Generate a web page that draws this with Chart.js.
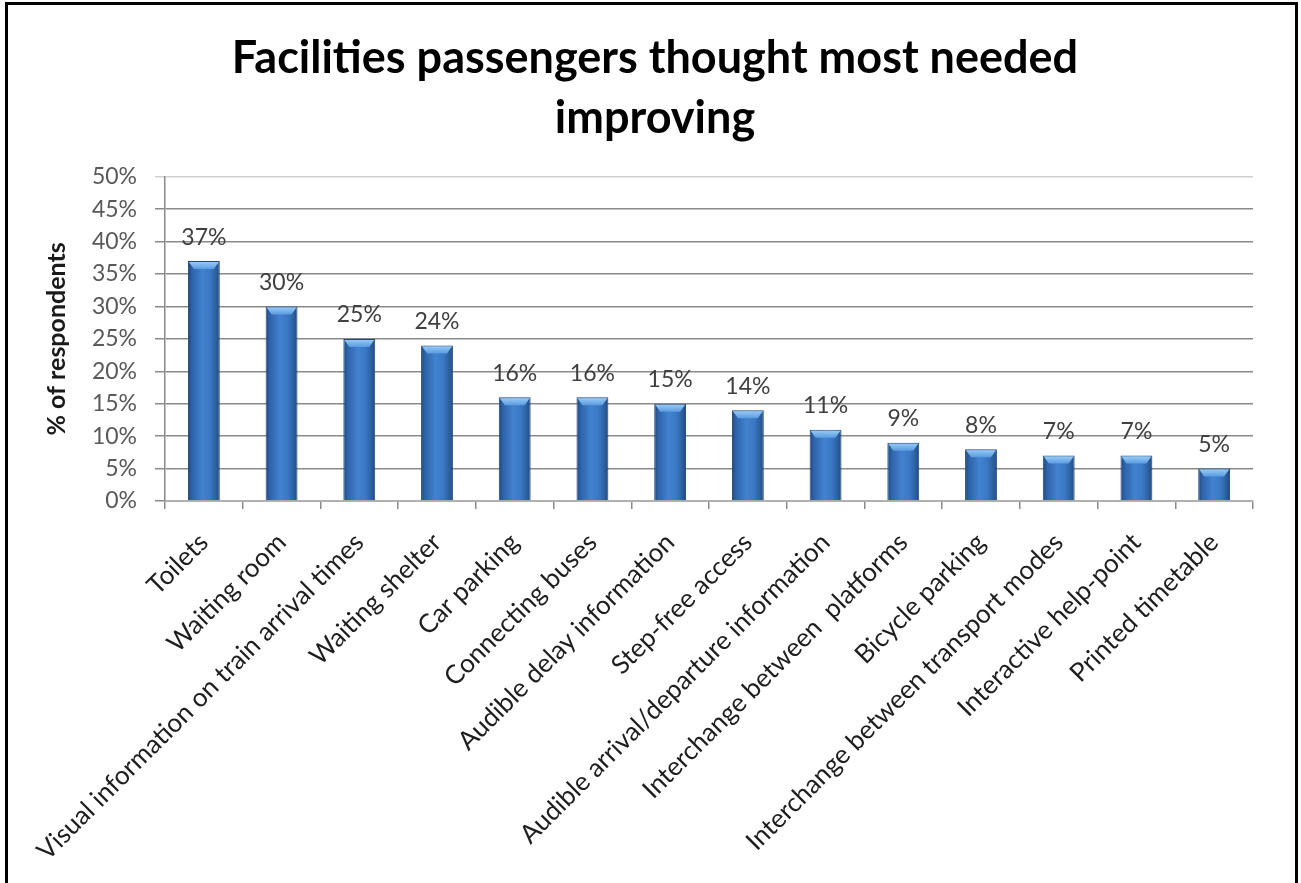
<!DOCTYPE html>
<html>
<head>
<meta charset="utf-8">
<script src="https://cdn.jsdelivr.net/npm/chart.js@4.4.1/dist/chart.umd.min.js"></script>
<style>
  html, body { margin: 0; padding: 0; background: #fff; }
  #wrap { position: relative; width: 1301px; height: 883px; }
</style>
</head>
<body>
<div id="wrap"><canvas id="c" width="1301" height="883"></canvas></div>
<script>
const titleLines = ['Facilities passengers thought most needed', 'improving'];
const categories = [
  'Toilets',
  'Waiting room',
  'Visual information on train arrival times',
  'Waiting shelter',
  'Car parking',
  'Connecting buses',
  'Audible delay information',
  'Step-free access',
  'Audible arrival/departure information',
  'Interchange between  platforms',
  'Bicycle parking',
  'Interchange between transport modes',
  'Interactive help-point',
  'Printed timetable'
];
const percentValues = [37, 30, 25, 24, 16, 16, 15, 14, 11, 9, 8, 7, 7, 5];
const yAxisTitle = '% of respondents';
const yMin = 0, yMax = 50, yStep = 5;

const BAR_PCT = 0.41;
const FONT = 'Lato, "Open Sans", sans-serif';

function barGradient(c) {
  const chart = c.chart;
  const xs = chart.scales && chart.scales.x;
  if (!xs || c.dataIndex === undefined || !isFinite(xs.width)) return '#3a75c0';
  const cx = xs.getPixelForValue(c.dataIndex);
  const w = xs.width / categories.length * BAR_PCT;
  const g = chart.ctx.createLinearGradient(cx - w / 2, 0, cx + w / 2, 0);
  g.addColorStop(0, '#1c4679');
  g.addColorStop(0.12, '#2d62a8');
  g.addColorStop(0.45, '#4282cf');
  g.addColorStop(0.7, '#3a78c3');
  g.addColorStop(0.9, '#2b5c9c');
  g.addColorStop(1, '#1d467a');
  return g;
}

const framePlugin = {
  id: 'frame',
  beforeDraw(chart) {
    const ctx = chart.ctx;
    ctx.save();
    ctx.fillStyle = '#ffffff';
    ctx.fillRect(0, 0, chart.width, chart.height);
    ctx.restore();
  },
  afterDraw(chart) {
    const ctx = chart.ctx;
    ctx.save();
    ctx.strokeStyle = '#000';
    ctx.lineWidth = 3;
    ctx.beginPath();
    ctx.moveTo(6.5, chart.height + 2);
    ctx.lineTo(6.5, 3.5);
    ctx.lineTo(chart.width - 4.5, 3.5);
    ctx.lineTo(chart.width - 4.5, chart.height + 2);
    ctx.stroke();
    ctx.restore();
  }
};

const bevelAndLabels = {
  id: 'bevelLabels',
  afterDatasetsDraw(chart) {
    const ctx = chart.ctx;
    const meta = chart.getDatasetMeta(0);
    ctx.save();
    meta.data.forEach((el, i) => {
      const p = el.getProps(['x', 'y', 'base', 'width'], true);
      const l = p.x - p.width / 2, r = p.x + p.width / 2, t = p.y;
      const h = 8;
      const g = ctx.createLinearGradient(0, t, 0, t + h);
      g.addColorStop(0, '#9fd0f7');
      g.addColorStop(1, '#5a9be0');
      ctx.fillStyle = g;
      ctx.beginPath();
      ctx.moveTo(l + 1, t + 1);
      ctx.lineTo(r - 1, t + 1);
      ctx.lineTo(r - 6, t + h);
      ctx.lineTo(l + 6, t + h);
      ctx.closePath();
      ctx.fill();
      ctx.fillStyle = '#404040';
      ctx.font = '23px ' + FONT;
      ctx.textAlign = 'center';
      ctx.textBaseline = 'middle';
      ctx.fillText(percentValues[i] + '%', p.x, t - 24);
    });
    ctx.restore();
  }
};

new Chart(document.getElementById('c'), {
  type: 'bar',
  data: {
    labels: categories,
    datasets: [{
      data: percentValues,
      backgroundColor: barGradient,
      borderColor: '#1f4677',
      borderWidth: 1,
      barPercentage: BAR_PCT,
      categoryPercentage: 1.0
    }]
  },
  options: {
    responsive: false,
    animation: false,
    events: [],
    layout: { padding: { left: 57, right: 48, top: 0, bottom: 0 } },
    plugins: {
      legend: { display: false },
      tooltip: { enabled: false },
      title: {
        display: true,
        text: titleLines,
        color: '#000',
        font: { family: FONT, size: 45, weight: 'bold', lineHeight: 1.32 },
        padding: { top: 29, bottom: 29 }
      }
    },
    scales: {
      x: {
        afterFit(s) { s.height = 382; },
        grid: {
          offset: true,
          drawOnChartArea: false,
          drawTicks: true,
          tickLength: 8,
          color: '#8a8a8a',
          lineWidth: 1.5
        },
        border: { display: true, color: '#b0b0b0', width: 2 },
        ticks: {
          autoSkip: false,
          minRotation: 45,
          maxRotation: 45,
          color: '#1e1e1e',
          font: { family: FONT, size: 26 },
          padding: 18
        }
      },
      y: {
        min: yMin,
        max: yMax,
        afterFit(s) { s.width = 108; },
        grid: {
          color: (c) => (c.tick && c.tick.value === yMax) ? '#d0d0d0' : '#8a8a8a',
          lineWidth: 1.5,
          tickLength: 10,
          drawTicks: true
        },
        border: { display: true, color: '#8a8a8a', width: 1.5 },
        ticks: {
          stepSize: yStep,
          color: '#595959',
          font: { family: FONT, size: 23 },
          padding: 18,
          callback: (v) => v + '%'
        },
        title: {
          display: true,
          text: yAxisTitle,
          color: '#1a1a1a',
          font: { family: FONT, size: 25, weight: 'bold' },
          padding: { top: -15, bottom: 0 }
        }
      }
    }
  },
  plugins: [framePlugin, bevelAndLabels]
});
</script>
</body>
</html>
